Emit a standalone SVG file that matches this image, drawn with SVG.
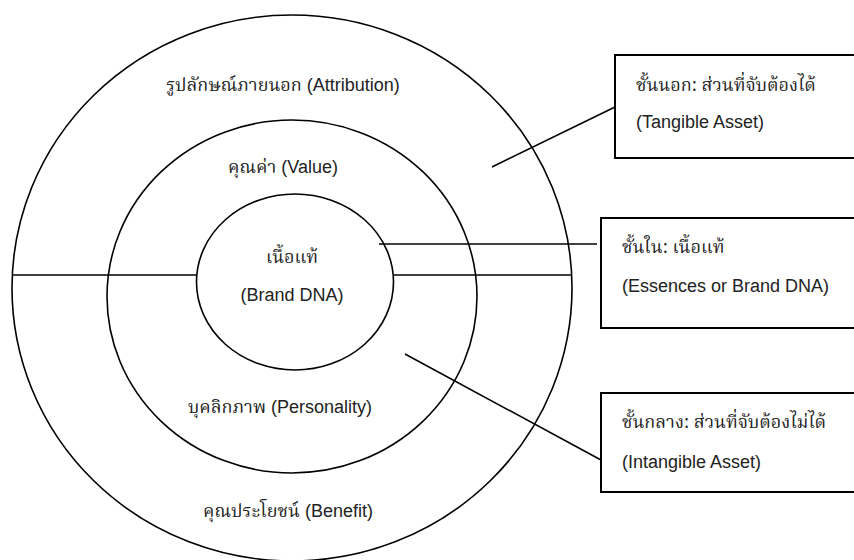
<svg xmlns="http://www.w3.org/2000/svg" width="854" height="560" viewBox="0 0 854 560">
  <style>
    .ring { fill: none; stroke: #000; stroke-width: 1.6; }
    .box { fill: #fff; stroke: #000; stroke-width: 2; }
    .wire { fill: none; stroke: #000; stroke-width: 1.6; }
    text { font-family: "Liberation Sans", "Noto Sans Thai", "DejaVu Sans", sans-serif; font-size: 18px; fill: #222; }
    .th { font-family: "Noto Serif Thai", "Noto Sans Thai Looped", "Noto Sans Thai", "Liberation Serif", serif; font-size: 18px; }
    .mid { text-anchor: middle; }
  </style>
  <rect width="854" height="560" fill="#fff"/>

  <!-- concentric layers -->
  <g id="outer-layer">
    <ellipse class="ring" cx="292" cy="288" rx="280" ry="273"/>
    <text class="mid" x="283" y="91"><tspan class="th">รูปลักษณ์ภายนอก</tspan> (Attribution)</text>
    <text class="mid" x="288" y="517"><tspan class="th">คุณประโยชน์</tspan> (Benefit)</text>
  </g>
  <g id="middle-layer">
    <ellipse class="ring" cx="292" cy="296.5" rx="185" ry="176.5"/>
    <text class="mid" x="283" y="173"><tspan class="th">คุณค่า</tspan> (Value)</text>
    <text class="mid" x="280" y="413"><tspan class="th">บุคลิกภาพ</tspan> (Personality)</text>
  </g>
  <g id="inner-layer">
    <ellipse class="ring" cx="295" cy="282" rx="98.5" ry="88"/>
    <text class="mid th" x="292" y="263">เนื้อแท้</text>
    <text class="mid" x="292" y="301">(Brand DNA)</text>
  </g>

  <!-- connectors and dividers -->
  <g id="connectors">
    <line class="wire" x1="12" y1="275" x2="196.5" y2="275"/>
    <line class="wire" x1="393.5" y1="275" x2="572" y2="275"/>
    <line class="wire" x1="492" y1="167" x2="615" y2="107"/>
    <line class="wire" x1="379" y1="244" x2="597" y2="244"/>
    <line class="wire" x1="405" y1="354" x2="601" y2="460"/>
  </g>

  <!-- callout boxes -->
  <g id="box-tangible">
    <rect class="box" x="615" y="55" width="260" height="103"/>
    <text class="th" x="636" y="91">ชั้นนอก: ส่วนที่จับต้องได้</text>
    <text x="636" y="128">(Tangible Asset)</text>
  </g>
  <g id="box-essence">
    <rect class="box" x="601" y="218" width="274" height="110"/>
    <text class="th" x="622" y="253">ชั้นใน: เนื้อแท้</text>
    <text x="622" y="292">(Essences or Brand DNA)</text>
  </g>
  <g id="box-intangible">
    <rect class="box" x="601" y="393" width="274" height="99"/>
    <text class="th" x="622" y="428">ชั้นกลาง: ส่วนที่จับต้องไม่ได้</text>
    <text x="622" y="468">(Intangible Asset)</text>
  </g>
</svg>
